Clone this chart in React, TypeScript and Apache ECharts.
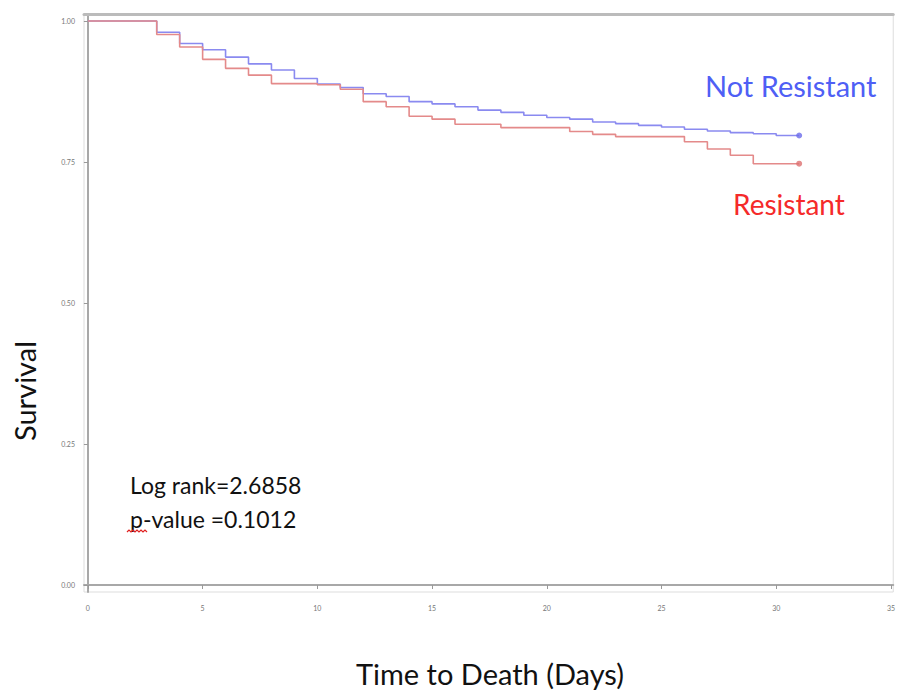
import React, { useEffect, useRef } from "react";
import * as echarts from "echarts";

const notResistantDays = [0, 3, 4, 5, 6, 7, 8, 9, 10, 11, 12, 13, 14, 15, 16, 17, 18, 19, 20, 21, 22, 23, 24, 25, 26, 27, 28, 29, 30, 31];
const notResistantSurv = [1.0, 0.98, 0.96, 0.949, 0.936, 0.924, 0.913, 0.898, 0.888, 0.882, 0.871, 0.866, 0.857, 0.853, 0.848, 0.842, 0.838, 0.833, 0.829, 0.826, 0.821, 0.818, 0.815, 0.812, 0.808, 0.805, 0.802, 0.8, 0.797, 0.797];

const resistantDays = [0, 3, 4, 5, 6, 7, 8, 10, 11, 12, 13, 14, 15, 16, 18, 21, 22, 23, 26, 27, 28, 29, 31];
const resistantSurv = [1.0, 0.976, 0.954, 0.932, 0.916, 0.904, 0.889, 0.887, 0.879, 0.857, 0.848, 0.831, 0.826, 0.817, 0.811, 0.804, 0.799, 0.795, 0.786, 0.773, 0.762, 0.747, 0.747];

const xTicks = [0, 5, 10, 15, 20, 25, 30, 35];
const yTicks = [0, 0.25, 0.5, 0.75, 1.0];

const seriesNames = ["Not Resistant", "Resistant"];
const statLines = ["Log rank=2.6858", "p-value =0.1012"];

const FONT = "Lato, 'Open Sans', sans-serif";

function zip(a: number[], b: number[]) {
  return a.map((d, i) => [d, b[i]]);
}

export default function App() {
  const ref = useRef<HTMLDivElement>(null);
  useEffect(() => {
    if (!ref.current) return;
    const chart = echarts.init(ref.current, null, { renderer: "svg" });
    const blue = "#8a8af0";
    const red = "#e48a8a";
    const axisColor = "#a8a8a8";
    chart.setOption({
      animation: false,
      backgroundColor: "#ffffff",
      grid: {
        left: 84,
        right: 3,
        top: 14,
        bottom: 98,
        show: true,
        borderColor: "#dddddd",
        borderWidth: 1,
      },
      xAxis: [
        {
          type: "value",
          min: -0.17,
          max: 35.1,
          position: "bottom",
          splitLine: { show: false },
          axisLine: { show: true, lineStyle: { color: axisColor, width: 2 } },
          axisTick: {
            show: true,
            customValues: xTicks,
            length: 4,
            lineStyle: { color: "#999" },
          },
          axisLabel: {
            customValues: xTicks,
            fontSize: 7,
            color: "#777",
            margin: 12,
            fontFamily: FONT,
          },
        },
        {
          type: "value",
          min: -0.17,
          max: 35.1,
          position: "top",
          splitLine: { show: false },
          axisLine: { show: true, lineStyle: { color: "#bbbbbb", width: 3 } },
          axisTick: { show: false },
          axisLabel: { show: false },
        },
      ],
      yAxis: {
        type: "value",
        min: -0.0124,
        max: 1.0124,
        splitLine: { show: false },
        axisLine: { show: true, lineStyle: { color: axisColor, width: 2 } },
        axisTick: {
          show: true,
          customValues: yTicks,
          length: 4,
          lineStyle: { color: "#999" },
        },
        axisLabel: {
          customValues: yTicks,
          fontSize: 7,
          color: "#777",
          margin: 9,
          fontFamily: FONT,
          formatter: (v: number) => v.toFixed(2),
        },
      },
      series: [
        {
          name: seriesNames[0],
          type: "line",
          step: "end",
          data: zip(notResistantDays, notResistantSurv),
          showSymbol: false,
          symbol: "none",
          lineStyle: { color: blue, width: 1.6 },
          z: 2,
        },
        {
          name: seriesNames[1],
          type: "line",
          step: "end",
          data: zip(resistantDays, resistantSurv),
          showSymbol: false,
          symbol: "none",
          lineStyle: { color: red, width: 1.6 },
          z: 3,
        },
        {
          type: "scatter",
          data: [[notResistantDays[notResistantDays.length - 1], notResistantSurv[notResistantSurv.length - 1]]],
          symbolSize: 6,
          itemStyle: { color: "#6b6bea" },
          z: 4,
        },
        {
          type: "scatter",
          data: [[resistantDays[resistantDays.length - 1], resistantSurv[resistantSurv.length - 1]]],
          symbolSize: 6,
          itemStyle: { color: "#dd7070" },
          z: 4,
        },
      ],
      graphic: [
        {
          type: "text",
          x: 705,
          y: 85,
          style: {
            text: seriesNames[0],
            fill: "#4f5ff5",
            font: `29px ${FONT}`,
            textVerticalAlign: "middle",
          },
        },
        {
          type: "text",
          x: 733,
          y: 204,
          style: {
            text: seriesNames[1],
            fill: "#f52a2a",
            font: `28px ${FONT}`,
            textVerticalAlign: "middle",
          },
        },
        {
          type: "text",
          x: 130,
          y: 485,
          style: {
            text: statLines[0],
            fill: "#111",
            font: `23px ${FONT}`,
            textVerticalAlign: "middle",
          },
        },
        {
          type: "text",
          x: 130,
          y: 519,
          style: {
            text: statLines[1],
            fill: "#111",
            font: `23px ${FONT}`,
            textVerticalAlign: "middle",
          },
        },
        {
          type: "polyline",
          shape: {
            points: [
              [127, 532], [129, 530], [131, 532], [133, 530], [135, 532], [137, 530], [139, 532], [141, 530], [143, 532], [145, 530], [147, 532],
            ],
          },
          style: { stroke: "#e02020", lineWidth: 1.2, fill: "none" },
        },
        {
          type: "text",
          x: 490,
          y: 673,
          style: {
            text: "Time to Death (Days)",
            fill: "#111",
            font: `29px ${FONT}`,
            textAlign: "center",
            textVerticalAlign: "middle",
          },
        },
        {
          type: "text",
          x: 24,
          y: 391,
          rotation: Math.PI / 2,
          style: {
            text: "Survival",
            fill: "#111",
            font: `29px ${FONT}`,
            textAlign: "center",
            textVerticalAlign: "middle",
          },
        },
      ],
    });
    return () => chart.dispose();
  }, []);
  return (
    <div
      ref={ref}
      style={{ position: "fixed", left: 0, top: 0, width: 898, height: 690 }}
    />
  );
}
